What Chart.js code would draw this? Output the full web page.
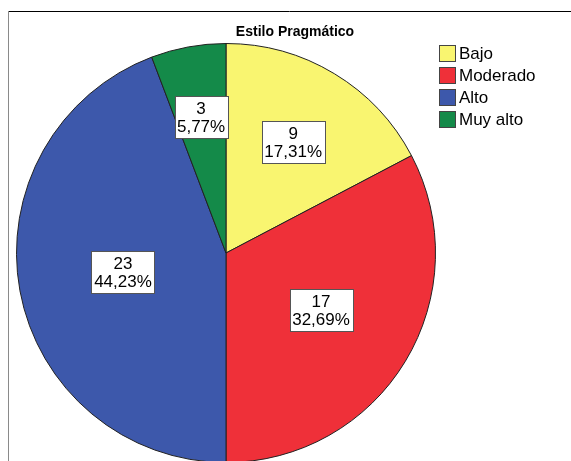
<!DOCTYPE html>
<html>
<head>
<meta charset="utf-8">
<script src="https://cdn.jsdelivr.net/npm/chart.js@4/dist/chart.umd.min.js"></script>
<style>
  html, body { margin: 0; padding: 0; background: #fff; overflow: hidden; }
  #wrap { position: absolute; left: 0; top: 0; width: 571px; height: 480px; }
</style>
</head>
<body>
<div id="wrap"><canvas id="myChart" width="571" height="480"></canvas></div>
<script>
const titulo = "Estilo Pragmático"
const categorias = ["Bajo", "Moderado", "Alto", "Muy alto"]
const frecuencias = [9, 17, 23, 3]
const colores = ["#f9f570", "#ef3039", "#3d58ab", "#148a49"]

const FONT = '"Liberation Sans", Arial, sans-serif'

// distance of each label box from the centre, as a share of the radius
const labelRadius = [0.62, 0.53, 0.50, 0.66]

function pct(v){
    const total = frecuencias.reduce((a, b) => a + b, 0)
    return (v / total * 100).toFixed(2).replace(".", ",") + "%"
}

const marco = {
    id: "marco",
    beforeDraw(chart){
        const ctx = chart.ctx
        ctx.save()
        ctx.fillStyle = "#fff"
        ctx.fillRect(0, 0, chart.width, chart.height)
        ctx.lineWidth = 1
        ctx.strokeStyle = "#000"
        ctx.beginPath()
        ctx.moveTo(8, 11.5)
        ctx.lineTo(chart.width, 11.5)
        ctx.stroke()
        ctx.strokeStyle = "#8a8a8a"
        ctx.beginPath()
        ctx.moveTo(8.5, 11)
        ctx.lineTo(8.5, chart.height)
        ctx.stroke()
        ctx.restore()
    }
}

const textos = {
    id: "textos",
    afterDatasetsDraw(chart){
        const ctx = chart.ctx
        ctx.save()

        // title
        ctx.fillStyle = "#000"
        ctx.font = "bold 14px " + FONT
        ctx.textAlign = "center"
        ctx.textBaseline = "middle"
        ctx.fillText(titulo, 295, 32)

        // value labels in boxes
        const arcs = chart.getDatasetMeta(0).data
        ctx.font = "17px " + FONT
        arcs.forEach((arc, i) => {
            const p = arc.getProps(["x", "y", "startAngle", "endAngle", "outerRadius"], true)
            const mid = (p.startAngle + p.endAngle) / 2
            const r = p.outerRadius * labelRadius[i]
            const cx = p.x + Math.cos(mid) * r
            const cy = p.y + Math.sin(mid) * r
            const l1 = String(frecuencias[i])
            const l2 = pct(frecuencias[i])
            const w = Math.round(Math.max(ctx.measureText(l1).width, ctx.measureText(l2).width) + 5)
            const h = 42
            const x0 = Math.round(cx - w / 2) + 0.5
            const y0 = Math.round(cy - h / 2) + 0.5
            ctx.fillStyle = "#fff"
            ctx.fillRect(x0, y0, w, h)
            ctx.strokeStyle = "#555"
            ctx.lineWidth = 1
            ctx.strokeRect(x0, y0, w, h)
            ctx.fillStyle = "#000"
            ctx.textAlign = "center"
            ctx.textBaseline = "middle"
            ctx.fillText(l1, cx, cy - 8)
            ctx.fillText(l2, cx, cy + 10)
        })

        // legend
        ctx.textAlign = "left"
        ctx.textBaseline = "middle"
        categorias.forEach((c, i) => {
            const y = 45.5 + i * 22
            ctx.fillStyle = colores[i]
            ctx.fillRect(439.5, y, 16, 16)
            ctx.strokeStyle = "#444"
            ctx.strokeRect(439.5, y, 16, 16)
            ctx.fillStyle = "#000"
            ctx.fillText(c, 459, y + 8.5)
        })
        ctx.restore()
    }
}

const ctx = document.getElementById("myChart").getContext("2d")

const myChart = new Chart(ctx, {
    type: "pie",
    data: {
        labels: categorias,
        datasets: [{
            data: frecuencias,
            backgroundColor: colores,
            borderColor: "#222",
            borderWidth: 1,
            hoverOffset: 0
        }]
    },
    options: {
        responsive: false,
        animation: false,
        layout: { padding: { left: 16, top: 43, right: 135, bottom: 17 } },
        plugins: {
            legend: { display: false },
            title: { display: false },
            tooltip: { enabled: false }
        }
    },
    plugins: [marco, textos]
})
</script>
</body>
</html>
